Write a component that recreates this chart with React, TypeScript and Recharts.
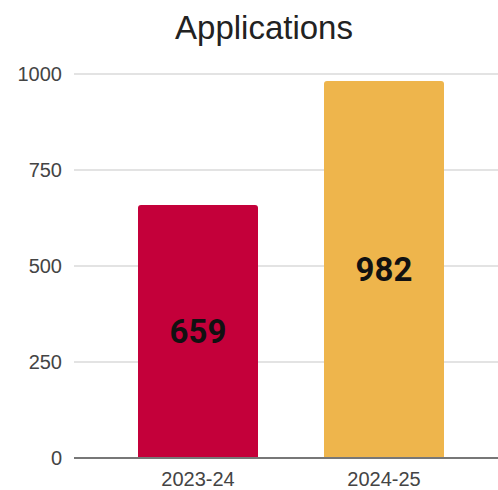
import React from "react";
import { BarChart, Bar, XAxis, YAxis, CartesianGrid, LabelList, Cell } from "recharts";

const categories = ["2023-24", "2024-25"];
const applications = [659, 982];
const yTicks = [0, 250, 500, 750, 1000];
const barColors = ["#c4003a", "#eeb54c"];
const title = "Applications";

const data = categories.map((c, i) => ({ name: c, value: applications[i] }));

export default function App() {
  return (
    <div style={{ position: "absolute", left: 0, top: 0, width: 498, height: 490, background: "#fff", overflow: "hidden" }}>
      <div
        style={{
          position: "absolute",
          left: 264,
          top: 12,
          transform: "translateX(-50%)",
          fontFamily: "'Liberation Sans', Arial, sans-serif",
          fontSize: 33,
          lineHeight: "32px",
          color: "#222",
          whiteSpace: "nowrap",
        }}
      >
        {title}
      </div>
      <BarChart
        width={498}
        height={490}
        data={data}
        margin={{ top: 74, right: 0, bottom: 0, left: 0 }}
      >
        <CartesianGrid vertical={false} stroke="#dadada" strokeWidth={1.5} />
        <XAxis
          dataKey="name"
          height={32}
          padding={{ left: 31, right: 21 }}
          tickSize={0}
          tickMargin={14}
          axisLine={{ stroke: "#777", strokeWidth: 2 }}
          tick={{ fill: "#444", fontSize: 20, fontFamily: "'Liberation Sans', Arial, sans-serif" }}
        />
        <YAxis
          width={74}
          domain={[0, 1000]}
          ticks={yTicks}
          axisLine={false}
          tickSize={0}
          tickMargin={12}
          tick={{ fill: "#444", fontSize: 20, fontFamily: "'Liberation Sans', Arial, sans-serif" }}
        />
        <Bar dataKey="value" barSize={120} radius={[3, 3, 0, 0]} isAnimationActive={false}>
          {data.map((d, i) => (
            <Cell key={d.name} fill={barColors[i]} />
          ))}
          <LabelList
            dataKey="value"
            position="center"
            fill="#111"
            fontSize={33}
            fontWeight="bold"
            fontFamily="Roboto, 'Liberation Sans', sans-serif"
          />
        </Bar>
      </BarChart>
    </div>
  );
}
